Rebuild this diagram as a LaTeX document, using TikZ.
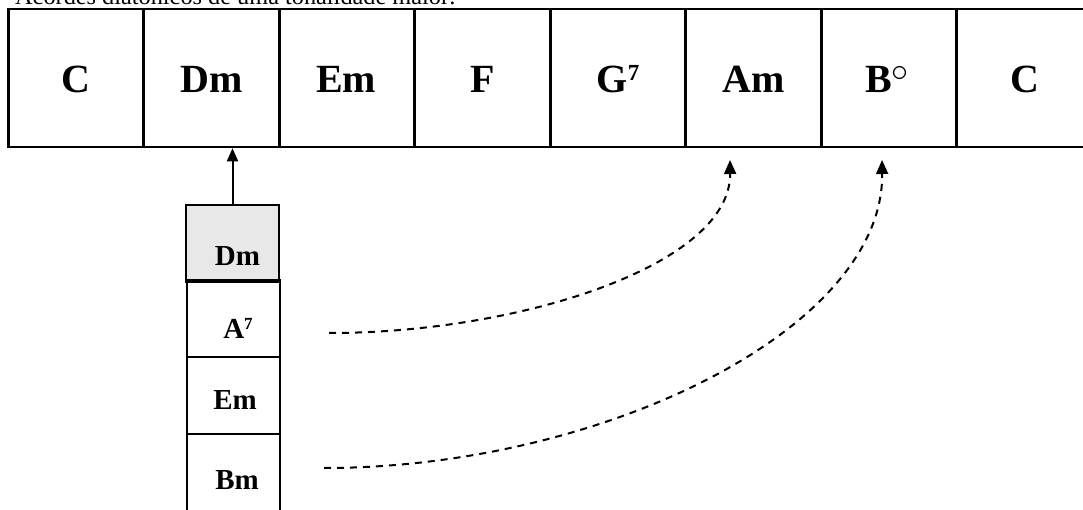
\RequirePackage{fix-cm}
\documentclass[tikz,border=0pt]{standalone}
\usepackage{fontspec}
\setmainfont{Liberation Serif}
\usetikzlibrary{arrows.meta}
\tikzset{
  cell/.style={draw, line width=2.6pt, minimum width=135.5pt, minimum height=138pt, inner sep=0pt},
  stackbox/.style={draw, line width=2pt, minimum width=93pt, minimum height=77pt, inner sep=0pt},
  bigchord/.style={font=\fontsize{40}{44}\selectfont\bfseries, anchor=base, inner sep=0pt},
  smallchord/.style={font=\fontsize{29}{32}\selectfont\bfseries, anchor=base, inner sep=0pt},
  solidarrow/.style={line width=2pt, -{Triangle[width=11pt,length=13pt]}},
  dasharrow/.style={line width=2pt, dash pattern=on 7pt off 6pt, -{Triangle[width=12pt,length=14pt]}},
}
\newcommand{\supseven}[2]{\raisebox{#2}{\fontsize{#1}{#1}\selectfont\textbf{7}}}
\newcommand{\degsign}{\hspace{-1pt}\raisebox{11pt}{\fontsize{34}{34}\selectfont$\circ$}}
\begin{document}
\begin{tikzpicture}[x=1pt,y=-1pt]
\useasboundingbox (0,0) rectangle (1083,510);
% title (clipped at top, as in the reference)
\node[anchor=base west, inner sep=0pt, font=\fontsize{24.3}{28}\selectfont] (title) at (15,5) {Acordes diatônicos de uma tonalidade maior:};
% top row cells
\node[cell] (c1) at (76,78) {};
\node[cell] (c2) at (211.5,78) {};
\node[cell] (c3) at (347,78) {};
\node[cell] (c4) at (482.5,78) {};
\node[cell] (c5) at (618,78) {};
\node[cell] (c6) at (753.5,78) {};
\node[cell] (c7) at (889,78) {};
\node[cell] (c8) at (1024.5,78) {};
\node[bigchord] (t1) at (76,93) {C};
\node[bigchord] (t2) at (211.5,93) {Dm};
\node[bigchord] (t3) at (346,93) {Em};
\node[bigchord] (t4) at (482.5,93) {F};
\node[bigchord] (t5) at (618,93) {G\supseven{23}{12pt}};
\node[bigchord] (t6) at (753.5,93) {Am};
\node[bigchord] (t7) at (887,93) {B\degsign};
\node[bigchord] (t8) at (1024.5,93) {C};
% stack
\node[stackbox, fill={rgb,255:red,232;green,232;blue,232}] (s1) at (232.5,244) {};
\node[stackbox] (s2) at (233.5,318.5) {};
\node[stackbox] (s3) at (233.5,395.5) {};
\node[stackbox, minimum height=100pt] (s4) at (233,484) {};
\node[smallchord] (u1) at (237.5,266) {Dm};
\node[smallchord] (u2) at (238,338) {A\supseven{17}{9pt}};
\node[smallchord] (u3) at (235,409) {Em};
\node[smallchord] (u4) at (237,489) {Bm};
% connectors
\draw[solidarrow] (s1.north) -- (s1.north |- c2.south);
\coordinate (a1) at (329,333);
\coordinate (e1) at (730,160);
\coordinate (a2) at (324,468);
\coordinate (e2) at (882,160);
\draw[dasharrow] (a1) .. controls (520,333) and (731,265) .. (e1);
\draw[dasharrow] (a2) .. controls (600,468) and (884,330) .. (e2);
\end{tikzpicture}
\end{document}
